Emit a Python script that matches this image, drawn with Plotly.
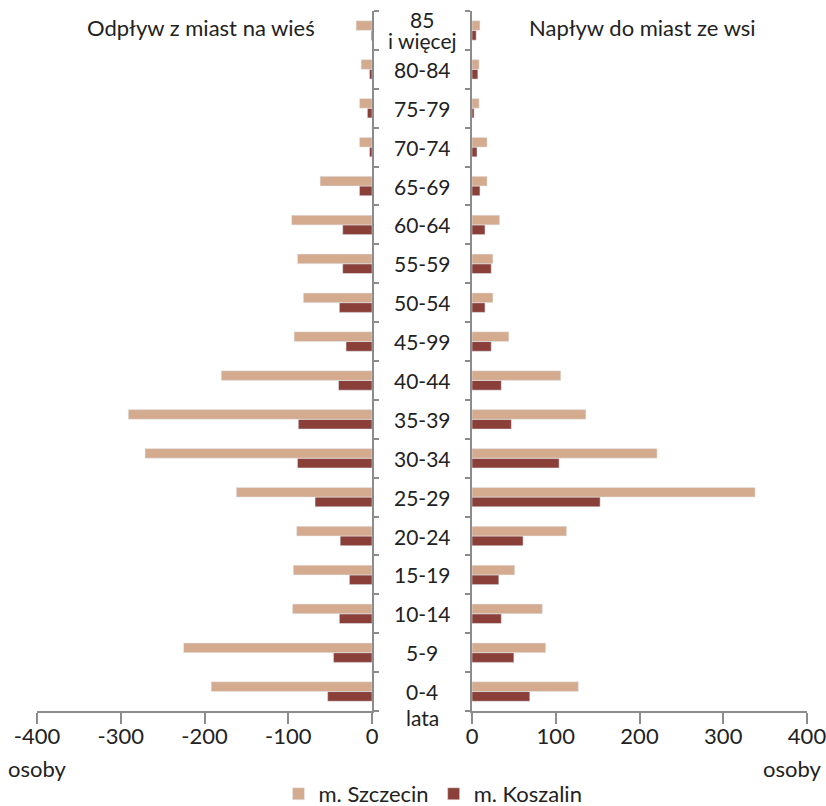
import plotly.graph_objects as go

# Age groups (bottom to top)
age_groups = ["0-4", "5-9", "10-14", "15-19", "20-24", "25-29", "30-34", "35-39",
              "40-44", "45-99", "50-54", "55-59", "60-64", "65-69", "70-74",
              "75-79", "80-84", "85 i więcej"]

# Odpływ z miast na wieś (left, negative)
out_szczecin = [-192, -225, -95, -94, -90, -162, -271, -291, -180, -93, -82, -89, -96, -62, -15, -15, -13, -19]
out_koszalin = [-53, -46, -39, -27, -38, -68, -89, -88, -40, -31, -39, -35, -35, -15, -3, -5.5, -3, -1]

# Napływ do miast ze wsi (right)
in_szczecin = [127, 88, 84, 51, 113, 338, 221, 136, 106, 44, 25, 25, 33, 18, 18, 8.5, 8.5, 9.5]
in_koszalin = [69, 50, 35, 32, 61, 153, 104, 47, 35, 23, 15.5, 23, 15.5, 9.5, 6, 2.5, 7, 5]

x_ticks_left = [-400, -300, -200, -100, 0]
x_ticktext_left = ["-400", "-300", "-200", "-100", "0"]
x_ticks_right = [0, 100, 200, 300, 400]
x_ticktext_right = ["0", "100", "200", "300", "400"]

title_left = "Odpływ z miast na wieś"
title_right = "Napływ do miast ze wsi"
unit_label = "osoby"
age_unit = "lata"
series_names = ["m. Szczecin", "m. Koszalin"]

C_SZ = "#D4AB8F"
C_KO = "#8A4039"
FONT = "Lato"
FS = 21
AX = "#8C8C8C"
TXT = "#222222"

fig = go.Figure()
# Koszalin added first so it is drawn below Szczecin in each group
fig.add_trace(go.Bar(y=age_groups, x=out_koszalin, orientation="h", name=series_names[1],
                     marker_color=C_KO, xaxis="x", yaxis="y", legendgroup="ko"))
fig.add_trace(go.Bar(y=age_groups, x=out_szczecin, orientation="h", name=series_names[0],
                     marker_color=C_SZ, xaxis="x", yaxis="y", legendgroup="sz"))
fig.add_trace(go.Bar(y=age_groups, x=in_koszalin, orientation="h", name=series_names[1],
                     marker_color=C_KO, xaxis="x2", yaxis="y2", legendgroup="ko", showlegend=False))
fig.add_trace(go.Bar(y=age_groups, x=in_szczecin, orientation="h", name=series_names[0],
                     marker_color=C_SZ, xaxis="x2", yaxis="y2", legendgroup="sz", showlegend=False))

L, R, T, B = 37, 19, 11, 95
W, H = 826, 806
pw = W - L - R
ph = H - T - B

def px_x(x):
    return (x - L) / pw

def px_y(y):
    return (H - B - y) / ph

xcommon = dict(showline=True, linecolor=AX, linewidth=1.5, ticks="outside", ticklen=11,
               tickcolor=AX, tickwidth=1.5, showgrid=False, zeroline=False,
               ticklabelstandoff=-6, ticklabeloverflow="allow",
               tickfont=dict(family=FONT, size=FS + 1, color=TXT), fixedrange=True)
ycommon = dict(type="category", categoryorder="array", categoryarray=age_groups,
               range=[-0.5, len(age_groups) - 0.5],
               showline=True, linecolor=AX, linewidth=1.5, ticks="outside", ticklen=5,
               tickcolor=AX, tickwidth=1.5, tickson="boundaries", showticklabels=False,
               showgrid=False, zeroline=False, fixedrange=True)

fig.update_layout(
    width=W, height=H,
    margin=dict(l=L, r=R, t=T, b=B, autoexpand=False),
    plot_bgcolor="white", paper_bgcolor="white",
    barmode="group", bargap=0.5, bargroupgap=0,
    font=dict(family=FONT, size=FS, color=TXT),
    xaxis=dict(domain=[0, px_x(372)], range=[-400, 0], tickvals=x_ticks_left,
               ticktext=x_ticktext_left, anchor="y", **xcommon),
    xaxis2=dict(domain=[px_x(472), 1], range=[0, 400], tickvals=x_ticks_right,
                ticktext=x_ticktext_right, anchor="y2", **xcommon),
    yaxis=dict(anchor="x", side="right", **ycommon),
    yaxis2=dict(anchor="x2", side="left", **ycommon),
    showlegend=True,
    legend=dict(orientation="h", x=px_x(433), xanchor="center", y=px_y(794), yanchor="middle",
                traceorder="reversed", font=dict(family=FONT, size=FS + 1, color=TXT),
                itemwidth=30, tracegroupgap=0),
)

ann = []
cx = px_x(422)
for g in age_groups:
    parts = g.split(" ", 1)
    if len(parts) == 2 and parts[0].isdigit():
        ann.append(dict(x=cx, xref="paper", y=g, yref="y", text=parts[0], showarrow=False,
                        yshift=11, font=dict(family=FONT, size=FS, color=TXT)))
        ann.append(dict(x=cx, xref="paper", y=g, yref="y", text=parts[1], showarrow=False,
                        yshift=-10, font=dict(family=FONT, size=FS, color=TXT)))
    else:
        ann.append(dict(x=cx, xref="paper", y=g, yref="y", text=g, showarrow=False,
                        font=dict(family=FONT, size=FS, color=TXT)))
ann.append(dict(x=cx, xref="paper", y=age_groups[0], yref="y", text=age_unit, showarrow=False,
                yshift=-26, font=dict(family=FONT, size=FS, color=TXT)))
ann.append(dict(x=px_x(317), xref="paper", xanchor="right", y=px_y(27), yref="paper",
                yanchor="middle", text=title_left, showarrow=False,
                font=dict(family=FONT, size=FS + 1, color=TXT)))
ann.append(dict(x=px_x(527), xref="paper", xanchor="left", y=px_y(27), yref="paper",
                yanchor="middle", text=title_right, showarrow=False,
                font=dict(family=FONT, size=FS + 1, color=TXT)))
ann.append(dict(x=px_x(37), xref="paper", xanchor="center", y=px_y(768), yref="paper",
                yanchor="middle", text=unit_label, showarrow=False,
                font=dict(family=FONT, size=FS + 1, color=TXT)))
ann.append(dict(x=px_x(824), xref="paper", xanchor="right", y=px_y(768), yref="paper",
                yanchor="middle", text=unit_label, showarrow=False,
                font=dict(family=FONT, size=FS + 1, color=TXT)))
fig.update_layout(annotations=ann)

fig.write_html("out.html", config={"displayModeBar": False},
               post_script="document.body.style.margin='0';document.body.style.overflow='hidden';")
